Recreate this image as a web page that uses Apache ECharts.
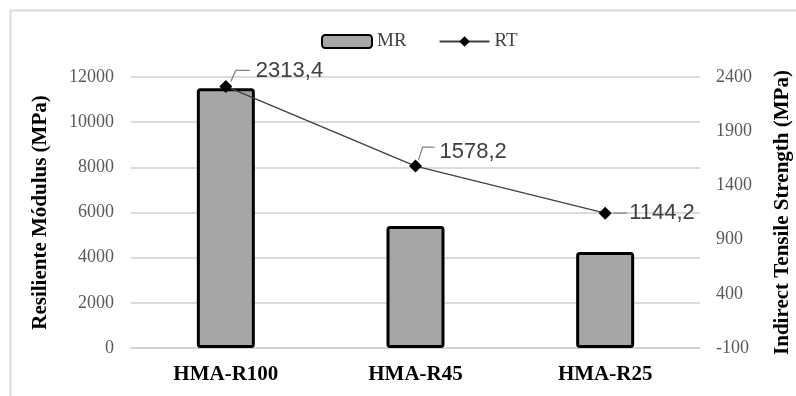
<!DOCTYPE html>
<html>
<head>
<meta charset="utf-8">
<script src="https://cdn.jsdelivr.net/npm/echarts@6/dist/echarts.min.js"></script>
<style>
  html, body { margin: 0; padding: 0; background: #fff; }
  #chart { width: 796px; height: 396px; }
</style>
</head>
<body>
<div id="chart"></div>
<script>
// Mixtures and measured properties
const categories = ['HMA-R100', 'HMA-R45', 'HMA-R25'];
const mrValues = [11500, 5400, 4250];          // Resilient modulus (MPa)
const rtValues = [2313.4, 1578.2, 1144.2];     // Indirect tensile strength (MPa)
const leftTicks = { min: 0, max: 12000, interval: 2000 };
const rightTicks = { min: -100, max: 2400, interval: 500 };

// Callout geometry for each RT label, relative to its marker:
// leader polyline points and the text anchor (left, middle)
const rtCallouts = [
  { line: [[5, -5], [10, -16], [24, -16]], text: [30, -15] },
  { line: [[3, -6], [7, -19], [19, -19]], text: [24, -14] },
  { line: [[8, 0], [22, 0]], text: [24, 0] }
];

const serif = '"Liberation Serif", "Times New Roman", serif';
const sans = '"Liberation Sans", Arial, sans-serif';
const fmtRT = v => v.toFixed(1).replace('.', ',');

const chart = echarts.init(document.getElementById('chart'), null, { renderer: 'canvas' });

chart.setOption({
  animation: false,
  backgroundColor: '#ffffff',
  graphic: [{
    type: 'rect',
    shape: { x: 10.5, y: 10.5, width: 800, height: 400 },
    style: { fill: 'none', stroke: '#d9d9d9', lineWidth: 2 },
    silent: true
  }],
  legend: {
    left: 316,
    top: 27,
    itemWidth: 50,
    itemHeight: 13,
    itemGap: 32,
    textStyle: { fontFamily: serif, fontSize: 19, color: '#404040' },
    data: ['MR', 'RT']
  },
  grid: {
    left: 131, right: 96, top: 77, bottom: 48,
    containLabel: false,
    outerBoundsMode: 'none'
  },
  xAxis: {
    type: 'category',
    data: categories,
    axisLine: { show: true, lineStyle: { color: '#cfcfcf', width: 1.5 } },
    axisTick: { show: false },
    axisLabel: {
      margin: 16,
      fontFamily: serif, fontSize: 21, fontWeight: 'bold', color: '#000'
    }
  },
  yAxis: [{
    type: 'value',
    min: leftTicks.min, max: leftTicks.max, interval: leftTicks.interval,
    name: 'Resiliente Módulus (MPa)',
    nameLocation: 'middle',
    nameGap: 80,
    nameTextStyle: { fontFamily: serif, fontSize: 21, fontWeight: 'bold', color: '#000' },
    axisLine: { show: false },
    axisTick: { show: false },
    axisLabel: { margin: 17, fontFamily: serif, fontSize: 18, color: '#595959', formatter: v => String(v) },
    splitLine: { lineStyle: { color: '#cfcfcf', width: 1.5 } }
  }, {
    type: 'value',
    position: 'right',
    min: rightTicks.min, max: rightTicks.max, interval: rightTicks.interval,
    name: 'Indirect Tensile Strength (MPa)',
    nameLocation: 'middle',
    nameGap: 72,
    nameTextStyle: { fontFamily: serif, fontSize: 21, fontWeight: 'bold', color: '#000' },
    axisLine: { show: false },
    axisTick: { show: false },
    axisLabel: { margin: 16, fontFamily: serif, fontSize: 18, color: '#595959', formatter: v => String(v) },
    splitLine: { show: false }
  }],
  series: [{
    // white margin that separates each column from the gridlines
    name: 'MR halo',
    type: 'bar',
    yAxisIndex: 0,
    data: mrValues,
    barWidth: 58,
    barGap: '-100%',
    z: 1,
    silent: true,
    itemStyle: { color: '#fff', borderColor: '#fff', borderWidth: 9 }
  }, {
    name: 'MR',
    type: 'bar',
    yAxisIndex: 0,
    data: mrValues,
    barWidth: 58,
    barGap: '-100%',
    z: 2,
    itemStyle: { color: '#a6a6a6', borderColor: '#000', borderWidth: 3, borderRadius: 2 }
  }, {
    name: 'RT',
    type: 'line',
    yAxisIndex: 1,
    data: rtValues,
    symbol: 'diamond',
    symbolSize: 13,
    lineStyle: { color: '#404040', width: 1.3 },
    itemStyle: { color: '#000' },
    z: 5
  }, {
    // RT value callouts with short leader lines
    name: 'RT labels',
    type: 'custom',
    yAxisIndex: 1,
    data: rtValues.map((v, i) => [i, v]),
    encode: { x: 0, y: 1 },
    z: 6,
    silent: true,
    renderItem: (params, api) => {
      const i = params.dataIndex;
      const p = api.coord([api.value(0), api.value(1)]);
      const c = rtCallouts[i];
      return {
        type: 'group',
        children: [{
          type: 'polyline',
          shape: { points: c.line.map(d => [p[0] + d[0], p[1] + d[1]]) },
          style: { stroke: '#808080', lineWidth: 1.2, fill: 'none' }
        }, {
          type: 'text',
          x: p[0] + c.text[0],
          y: p[1] + c.text[1],
          style: {
            text: fmtRT(api.value(1)),
            fontFamily: sans,
            fontSize: 22,
            fill: '#404040',
            align: 'left',
            verticalAlign: 'middle'
          }
        }]
      };
    }
  }]
});
</script>
</body>
</html>
